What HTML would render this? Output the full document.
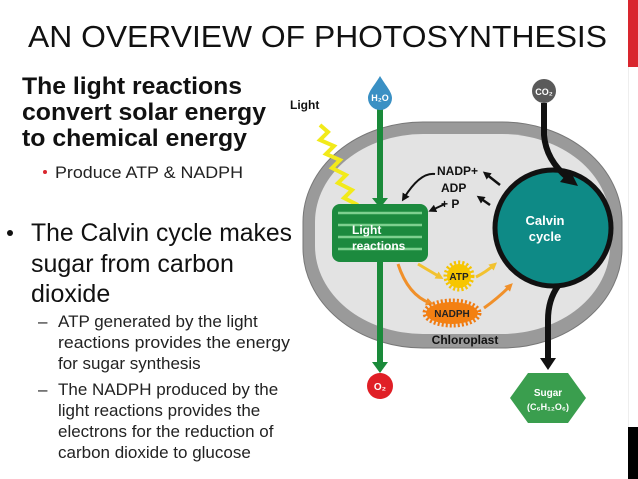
<!DOCTYPE html>
<html><head><meta charset="utf-8"><style>
body{margin:0;background:#fff;}
svg{display:block;font-family:"Liberation Sans",Arial,sans-serif;}
</style></head><body>
<svg width="638" height="479" viewBox="0 0 638 479">
<defs>
<marker id="ab" markerWidth="8" markerHeight="8" refX="4" refY="4" orient="auto" markerUnits="userSpaceOnUse"><path d="M0,0 L8,4 L0,8 z" fill="#111"/></marker>
<marker id="ay" markerWidth="8" markerHeight="8" refX="4" refY="4" orient="auto" markerUnits="userSpaceOnUse"><path d="M0,0 L8,4 L0,8 z" fill="#f2c230"/></marker>
<marker id="ao" markerWidth="8" markerHeight="8" refX="4" refY="4" orient="auto" markerUnits="userSpaceOnUse"><path d="M0,0 L8,4 L0,8 z" fill="#f0902a"/></marker>
</defs>
<rect x="628" y="0" width="10" height="67" fill="#d9262e"/>
<rect x="628" y="427" width="10" height="52" fill="#000"/>
<line x1="628.5" y1="67" x2="628.5" y2="427" stroke="#eee"/>
<text x="28" y="47" font-size="31" fill="#111" textLength="579" lengthAdjust="spacingAndGlyphs">AN OVERVIEW OF PHOTOSYNTHESIS</text>
<g font-size="24" font-weight="bold" fill="#111">
<text x="22" y="94" textLength="220" lengthAdjust="spacingAndGlyphs">The light reactions</text>
<text x="22" y="120" textLength="244" lengthAdjust="spacingAndGlyphs">convert solar energy</text>
<text x="22" y="146" textLength="225" lengthAdjust="spacingAndGlyphs">to chemical energy</text>
</g>
<circle cx="45" cy="172" r="2" fill="#d9262e"/>
<text x="55" y="178" font-size="17" fill="#222" textLength="188" lengthAdjust="spacingAndGlyphs">Produce ATP &amp; NADPH</text>
<circle cx="10" cy="233" r="3" fill="#111"/>
<g font-size="25" fill="#111">
<text x="31" y="241" textLength="261" lengthAdjust="spacingAndGlyphs">The Calvin cycle makes</text>
<text x="31" y="272">sugar from carbon</text>
<text x="31" y="302">dioxide</text>
</g>
<g font-size="17" fill="#222">
<text x="38" y="327">–</text>
<text x="58" y="327">ATP generated by the light</text>
<text x="58" y="348" textLength="232" lengthAdjust="spacingAndGlyphs">reactions provides the energy</text>
<text x="58" y="369">for sugar synthesis</text>
<text x="38" y="395">–</text>
<text x="58" y="395">The NADPH produced by the</text>
<text x="58" y="416">light reactions provides the</text>
<text x="58" y="437">electrons for the reduction of</text>
<text x="58" y="458">carbon dioxide to glucose</text>
</g>
<!-- chloroplast -->
<rect x="303" y="122" width="319" height="226" rx="120" ry="100" fill="#9a9a9a" stroke="#777" stroke-width="1"/>
<rect x="315" y="134" width="295" height="200" rx="108" ry="88" fill="#e3e3e3"/>
<text x="465" y="344" font-size="12" font-weight="bold" text-anchor="middle" fill="#111">Chloroplast</text>
<text x="290" y="109" font-size="12" font-weight="bold" fill="#111">Light</text>
<polyline points="320,125 328,132 320,140 334,146 326,154 340,160 332,168 346,175 338,183 352,190 344,198 358,205" fill="none" stroke="#f2ea1a" stroke-width="4"/>
<line x1="380" y1="104" x2="380" y2="368" stroke="#1a8a3a" stroke-width="6"/>
<path d="M372,198 L388,198 L380,208 z" fill="#1a8a3a"/>
<path d="M372,362 L388,362 L380,373 z" fill="#1a8a3a"/>
<path d="M380,76 C386,86 392,92 392,98 A12,12 0 0 1 368,98 C368,92 374,86 380,76 z" fill="#3a90c4"/>
<text x="380" y="101" font-size="9" font-weight="bold" fill="#fff" text-anchor="middle">H₂O</text>
<circle cx="380" cy="386" r="13" fill="#e01f26"/>
<text x="380" y="390" font-size="10" font-weight="bold" fill="#fff" text-anchor="middle">O₂</text>
<rect x="332" y="204" width="96" height="58" rx="8" fill="#1c8a3e"/>
<g stroke="#7ed08f" stroke-width="2.5" fill="none">
<line x1="338" y1="213" x2="422" y2="213"/>
<line x1="338" y1="225" x2="422" y2="225"/>
<line x1="338" y1="237" x2="422" y2="237"/>
<line x1="338" y1="249" x2="422" y2="249"/>
</g>
<text x="352" y="234" font-size="12" font-weight="bold" fill="#fff">Light</text>
<text x="352" y="250" font-size="12" font-weight="bold" fill="#fff">reactions</text>
<g font-size="12" font-weight="bold" fill="#111">
<text x="437" y="175">NADP+</text>
<text x="441" y="192">ADP</text>
<text x="441" y="208">+ P</text>
</g>
<path d="M435,174 Q420,172 404,198" fill="none" stroke="#111" stroke-width="2" marker-end="url(#ab)"/>
<path d="M445,204 L432,210" fill="none" stroke="#111" stroke-width="2" marker-end="url(#ab)"/>
<path d="M500,185 L486,174" fill="none" stroke="#111" stroke-width="2.5" marker-end="url(#ab)"/>
<path d="M490,205 L480,198" fill="none" stroke="#111" stroke-width="2.5" marker-end="url(#ab)"/>
<path d="M418,264 Q428,270 440,277" fill="none" stroke="#f2c230" stroke-width="3" marker-end="url(#ay)"/>
<path d="M476,277 Q486,272 494,265" fill="none" stroke="#f2c230" stroke-width="3" marker-end="url(#ay)"/>
<path d="M398,264 Q408,295 430,303" fill="none" stroke="#f0902a" stroke-width="3" marker-end="url(#ao)"/>
<path d="M484,308 Q498,298 510,286" fill="none" stroke="#f0902a" stroke-width="3" marker-end="url(#ao)"/>
<circle cx="459" cy="276" r="13" fill="none" stroke="#f5c400" stroke-width="5" stroke-dasharray="2 2"/>
<circle cx="459" cy="276" r="12" fill="#f7c600"/>
<text x="459" y="280" font-size="10" font-weight="bold" text-anchor="middle" fill="#222">ATP</text>
<ellipse cx="452" cy="313" rx="27" ry="12" fill="none" stroke="#f07a10" stroke-width="5" stroke-dasharray="2 2"/>
<ellipse cx="452" cy="313" rx="26" ry="11" fill="#f38012"/>
<text x="452" y="317" font-size="10" font-weight="bold" text-anchor="middle" fill="#222">NADPH</text>
<circle cx="553" cy="228" r="56" fill="#0e8a86"/>
<circle cx="553" cy="228" r="58" fill="none" stroke="#111" stroke-width="5"/>
<text x="545" y="225" font-size="13" font-weight="bold" fill="#fff" text-anchor="middle">Calvin</text>
<text x="545" y="241" font-size="13" font-weight="bold" fill="#fff" text-anchor="middle">cycle</text>
<circle cx="544" cy="91" r="12" fill="#5a5a5a"/>
<text x="544" y="95" font-size="9" font-weight="bold" fill="#fff" text-anchor="middle">CO₂</text>
<path d="M544,103 L544,135 Q546,160 568,178" fill="none" stroke="#111" stroke-width="6"/>
<path d="M560,182 L578,186 L570,170 z" fill="#111"/>
<path d="M558,286 Q548,300 548,320 L548,360" fill="none" stroke="#111" stroke-width="6"/>
<path d="M540,358 L556,358 L548,370 z" fill="#111"/>
<polygon points="510,398 528,373 568,373 586,398 568,423 528,423" fill="#3a9e4e"/>
<text x="548" y="396" font-size="10" font-weight="bold" fill="#fff" text-anchor="middle">Sugar</text>
<text x="548" y="410" font-size="9" font-weight="bold" fill="#fff" text-anchor="middle">(C₆H₁₂O₆)</text>
</svg>
</body></html>
